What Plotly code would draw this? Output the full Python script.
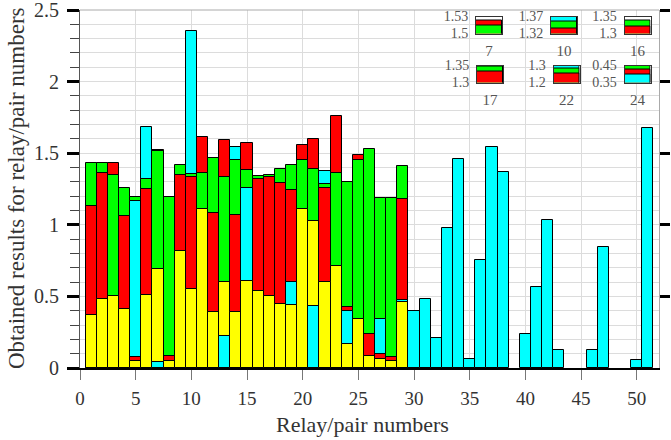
import plotly.graph_objects as go

# ---------------- data ----------------
relays = list(range(1, 52))

yellow = [0.37, 0.48, 0.50, 0.41, 0.05, 0.51, 0.69, 0.05, 0.82, 0.55,
          1.11, 0.39, 0.60, 0.39, 0.61, 0.54, 0.50, 0.45, 0.44, 1.11,
          1.03, 0.60, 0.715, 0.17, 0.34, 0.086, 0.06, 0.05, 0.46, 0,
          0, 0, 0, 0, 0, 0, 0, 0, 0, 0,
          0, 0, 0, 0, 0, 0, 0, 0, 0, 0, 0]
red = [1.13, 1.365, 1.43, 1.06, 0.075, 1.25, 1.523, 0.084, 1.35, 1.335,
       1.61, 1.08, 1.595, 1.07, 1.57, 1.32, 1.333, 1.29, 1.245, 1.555,
       1.60, 1.254, 1.76, 0.424, 1.49, 0.24, 0.095, 0.08, 1.18, 0,
       0, 0, 0, 0, 0, 0, 0, 0, 0, 0,
       0, 0, 0, 0, 0, 0, 0, 0, 0, 0, 0]
green = [1.43, 1.435, 1.35, 1.26, 1.195, 1.32, 1.515, 1.195, 1.42, 1.354,
         1.365, 1.47, 1.335, 1.45, 1.38, 1.338, 1.348, 1.39, 1.415, 1.45,
         1.39, 1.284, 1.36, 1.30, 1.455, 1.53, 1.19, 1.19, 1.41, 0,
         0, 0, 0, 0, 0, 0, 0, 0, 0, 0,
         0, 0, 0, 0, 0, 0, 0, 0, 0, 0, 0]
cyan = [0, 0, 0, 0, 1.165, 1.68, 0.045, 0, 0, 2.35,
        0, 0, 0.225, 1.54, 1.26, 0, 0, 0, 0.60, 0,
        0.43, 1.375, 0, 0.40, 0, 0, 0.34, 0, 0.475, 0.40,
        0.48, 0.21, 0.975, 1.458, 0.065, 0.754, 1.545, 1.372, 0, 0.237,
        0.568, 1.033, 0.123, 0, 0, 0.123, 0.842, 0, 0, 0.056, 1.677]

series = [("yellow", yellow, "#FFFF00"), ("red", red, "#FF0000"),
          ("green", green, "#00FF00"), ("cyan", cyan, "#00FFFF")]

x_ticks = [0, 5, 10, 15, 20, 25, 30, 35, 40, 45, 50]
y_ticks = [0, 0.5, 1, 1.5, 2, 2.5]
y_tick_text = ["0", "0.5", "1", "1.5", "2", "2.5"]

# zoom insets: relay, low, high, low label, high label
inset_relays = [7, 10, 16, 17, 22, 24]
inset_lo = [1.5, 1.32, 1.3, 1.3, 1.2, 0.35]
inset_hi = [1.53, 1.37, 1.35, 1.35, 1.3, 0.45]
inset_lo_txt = ["1.5", "1.32", "1.3", "1.3", "1.2", "0.35"]
inset_hi_txt = ["1.53", "1.37", "1.35", "1.35", "1.3", "0.45"]

# ---------------- layout geometry (pixels) ----------------
W, H = 671, 440
L, R, T, B = 80, 12, 10, 72
PW, PH = W - L - R, H - T - B
FONT = "Liberation Serif"


def px_x(p):
    return (p - L) / PW


def px_y(p):
    return (H - B - p) / PH


inset_boxes = [(476, 16.5), (551, 16.5), (624.5, 16.5),
               (477, 65.5), (553.5, 65.5), (624.5, 65.5)]
IW, IH = 26, 17


def ranked_traces(idx_list, xa, ya):
    """Overlaid bars, tallest drawn first so each smaller value stays visible."""
    ranks = [[None] * len(idx_list) for _ in range(4)]
    cols = [["#FFFFFF"] * len(idx_list) for _ in range(4)]
    for j, i in enumerate(idx_list):
        vals = sorted([(s[1][i], s[2]) for s in series], key=lambda t: -t[0])
        for r, (v, c) in enumerate(vals):
            if v > 0:
                ranks[r][j] = v
                cols[r][j] = c
    xs = [relays[i] for i in idx_list]
    out = []
    for r in range(4):
        out.append(go.Bar(x=xs, y=ranks[r], width=1,
                          marker=dict(color=cols[r], line=dict(color="black", width=1)),
                          xaxis=xa, yaxis=ya, showlegend=False, hoverinfo="x+y"))
    return out


fig = go.Figure()
for t in ranked_traces(list(range(len(relays))), "x", "y"):
    fig.add_trace(t)
# dummy trace to show right-hand axis
fig.add_trace(go.Scatter(x=[None], y=[None], yaxis="y2", showlegend=False, hoverinfo="skip"))

layout_extra = {}
for k, n in enumerate(inset_relays):
    ax = k + 3
    for t in ranked_traces([relays.index(n)], f"x{ax}", f"y{ax}"):
        fig.add_trace(t)
    x0, y0 = inset_boxes[k]
    layout_extra[f"xaxis{ax}"] = dict(
        domain=[px_x(x0), px_x(x0 + IW)], anchor=f"y{ax}", range=[n - 0.5, n + 0.5],
        tickvals=[n], ticktext=[str(n)], ticks="", showgrid=False, zeroline=False,
        showline=True, mirror=True, linecolor="#333", linewidth=1, automargin=False,
        tickfont=dict(family=FONT, size=15, color="#555"), ticklabelstandoff=3)
    layout_extra[f"yaxis{ax}"] = dict(
        domain=[px_y(y0 + IH), px_y(y0)], anchor=f"x{ax}",
        range=[inset_lo[k], inset_hi[k]],
        tickvals=[inset_lo[k], inset_hi[k]], ticktext=[inset_lo_txt[k], inset_hi_txt[k]],
        ticks="", showgrid=False, zeroline=False, automargin=False,
        showline=True, mirror=True, linecolor="#333", linewidth=1,
        ticklabeloverflow="allow",
        tickfont=dict(family=FONT, size=14, color="#555"), ticklabelstandoff=4)

fig.update_layout(
    width=W, height=H, margin=dict(l=L, r=R, t=T, b=B, autoexpand=False),
    paper_bgcolor="white", plot_bgcolor="white",
    barmode="overlay", bargap=0,
    font=dict(family=FONT, color="#333"),
    xaxis=dict(range=[0, 52], tickvals=x_ticks, ticks="outside", ticklen=10,
               tickcolor="#777", tickwidth=1, showgrid=True, gridcolor="#dcdcdc",
               zeroline=False, showline=True, linecolor="black", linewidth=1.5,
               automargin=False, ticklabeloverflow="allow",
               tickfont=dict(family=FONT, size=19, color="#333"), ticklabelstandoff=2),
    yaxis=dict(range=[0, 2.5], tickvals=y_ticks, ticktext=y_tick_text,
               ticks="outside", ticklen=12, tickwidth=3, tickcolor="black",
               showgrid=True, gridcolor="#dcdcdc", zeroline=False, automargin=False,
               showline=True, linecolor="#555", linewidth=1,
               ticklabeloverflow="allow",
               minor=dict(dtick=0.1, tick0=0, ticks="outside", ticklen=9, tickwidth=1,
                          tickcolor="#444", showgrid=True, gridcolor="#dcdcdc"),
               tickfont=dict(family=FONT, size=20, color="#333"), ticklabelstandoff=4),
    yaxis2=dict(range=[0, 2.5], overlaying="y", side="right", anchor="x",
                tickvals=[0.5, 1, 1.5, 2, 2.5], ticks="outside", ticklen=10, tickwidth=3,
                tickcolor="black", showticklabels=False, showgrid=False, zeroline=False,
                showline=True, linecolor="#aaa", linewidth=1, automargin=False),
    **layout_extra,
)

fig.add_shape(type="line", xref="paper", yref="paper", x0=0, x1=1, y0=1, y1=1,
              line=dict(color="#aaa", width=1))

fig.add_annotation(text="Relay/pair numbers", xref="paper", yref="paper",
                   x=px_x(362), y=px_y(424), xanchor="center", yanchor="middle",
                   showarrow=False, font=dict(family=FONT, size=22, color="#333"))
fig.add_annotation(text="Obtained results for relay/pair numbers", xref="paper", yref="paper",
                   x=px_x(16), y=px_y(188), xanchor="center", yanchor="middle",
                   textangle=-90, showarrow=False,
                   font=dict(family=FONT, size=23, color="#333"))

fig.write_html("out.html")
